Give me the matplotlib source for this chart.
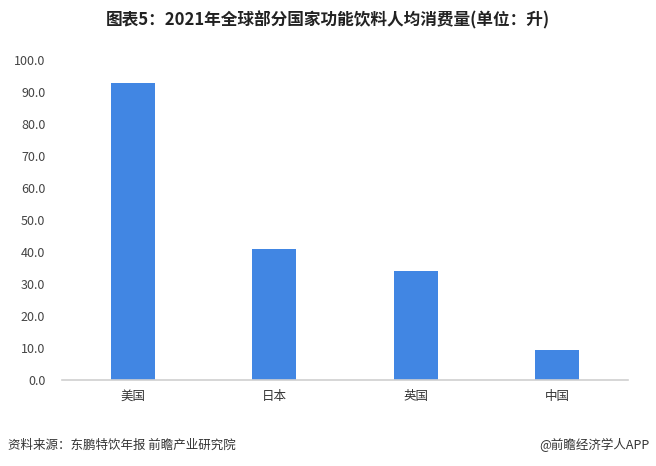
import matplotlib.pyplot as plt

plt.rcParams['font.family'] = ['Noto Sans CJK SC', 'DejaVu Sans']

# 数据
countries = ['美国', '日本', '英国', '中国']
consumption = [92.8, 40.9, 34.1, 9.4]
yticks = [0, 10, 20, 30, 40, 50, 60, 70, 80, 90, 100]

fig = plt.figure(figsize=(6.56, 4.66), dpi=100)
ax = fig.add_axes([62 / 656, 86 / 466, 566 / 656, 320 / 466])

x = range(len(countries))
ax.bar(x, consumption, width=0.31, color='#4186e3')

ax.set_xlim(-0.5, len(countries) - 0.5)
ax.set_ylim(0, 100)
ax.set_yticks(yticks)
ax.set_yticklabels(['%.1f' % v for v in yticks], fontsize=9, color='#444444')
ax.set_xticks(list(x))
ax.set_xticklabels(countries, fontsize=9, color='#333333')
ax.tick_params(axis='both', length=0, pad=7)
ax.tick_params(axis='y', pad=12)

for side in ['top', 'right', 'left']:
    ax.spines[side].set_visible(False)
ax.spines['bottom'].set_color('#d0d0d0')
ax.spines['bottom'].set_linewidth(1.2)

fig.text(0.5, 1 - 20 / 466, '图表5：2021年全球部分国家功能饮料人均消费量(单位：升)',
         ha='center', va='center', fontsize=12, fontweight='bold', color='#222222')
fig.text(8 / 656, 1 - 445 / 466, '资料来源：东鹏特饮年报 前瞻产业研究院',
         ha='left', va='center', fontsize=9, color='#333333')
fig.text(650 / 656, 1 - 445 / 466, '@前瞻经济学人APP',
         ha='right', va='center', fontsize=9, color='#333333')

fig.savefig('out.png', dpi=100)
